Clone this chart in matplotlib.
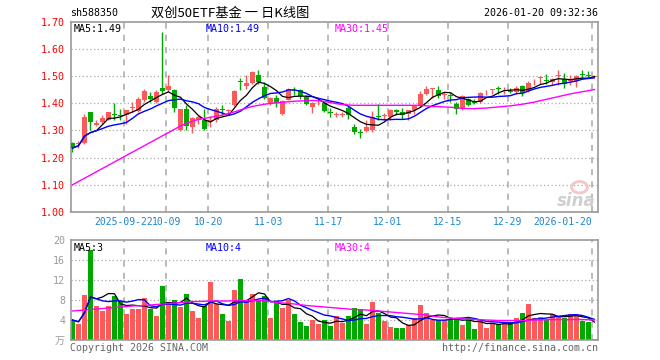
import numpy as np
import pandas as pd
import matplotlib
matplotlib.use('Agg')
import matplotlib.pyplot as plt
import matplotlib.transforms as mtransforms
from matplotlib.patches import Ellipse

plt.rcParams['font.family'] = ['DejaVu Sans Mono', 'Noto Sans CJK SC']

# daily candles, 2025-09-09 .. 2026-01-20
opens = [1.254, 1.249, 1.254, 1.366, 1.318, 1.331, 1.339, 1.359, 1.358, 1.356,
         1.383, 1.371, 1.410, 1.427, 1.404, 1.454, 1.447, 1.447, 1.303, 1.380,
         1.312, 1.337, 1.339, 1.334, 1.337, 1.378, 1.371, 1.392, 1.481, 1.464,
         1.474, 1.502, 1.459, 1.396, 1.420, 1.359, 1.413, 1.447, 1.449, 1.422,
         1.386, 1.408, 1.400, 1.369, 1.356, 1.356, 1.383, 1.312, 1.295, 1.298,
         1.300, 1.351, 1.353, 1.349, 1.376, 1.367, 1.361, 1.376, 1.388, 1.435,
         1.451, 1.449, 1.431, 1.430, 1.396, 1.383, 1.416, 1.405, 1.404, 1.443,
         1.448, 1.456, 1.443, 1.446, 1.441, 1.462, 1.445, 1.476, 1.492, 1.486,
         1.478, 1.501, 1.490, 1.482, 1.480, 1.507, 1.503, 1.496]
highs = [1.257, 1.262, 1.361, 1.366, 1.337, 1.355, 1.366, 1.400, 1.380, 1.376,
         1.404, 1.422, 1.453, 1.441, 1.449, 1.661, 1.502, 1.451, 1.380, 1.392,
         1.349, 1.355, 1.380, 1.351, 1.386, 1.392, 1.380, 1.447, 1.494, 1.502,
         1.518, 1.520, 1.478, 1.422, 1.429, 1.410, 1.456, 1.459, 1.453, 1.429,
         1.404, 1.416, 1.404, 1.383, 1.367, 1.366, 1.388, 1.325, 1.306, 1.339,
         1.371, 1.396, 1.364, 1.380, 1.380, 1.383, 1.376, 1.394, 1.445, 1.462,
         1.456, 1.462, 1.441, 1.437, 1.404, 1.429, 1.420, 1.416, 1.441, 1.449,
         1.451, 1.462, 1.459, 1.457, 1.462, 1.465, 1.481, 1.490, 1.498, 1.508,
         1.493, 1.523, 1.512, 1.502, 1.502, 1.520, 1.518, 1.502]
lows = [1.221, 1.237, 1.249, 1.300, 1.315, 1.322, 1.339, 1.339, 1.339, 1.325,
        1.367, 1.367, 1.404, 1.404, 1.400, 1.432, 1.441, 1.367, 1.298, 1.300,
        1.290, 1.325, 1.303, 1.312, 1.331, 1.355, 1.361, 1.388, 1.449, 1.453,
        1.471, 1.471, 1.416, 1.392, 1.386, 1.355, 1.410, 1.429, 1.416, 1.392,
        1.364, 1.392, 1.367, 1.349, 1.349, 1.349, 1.343, 1.288, 1.273, 1.294,
        1.294, 1.337, 1.337, 1.337, 1.355, 1.343, 1.339, 1.361, 1.386, 1.429,
        1.420, 1.420, 1.416, 1.404, 1.361, 1.374, 1.388, 1.398, 1.400, 1.429,
        1.432, 1.435, 1.432, 1.437, 1.432, 1.425, 1.441, 1.465, 1.471, 1.471,
        1.465, 1.465, 1.457, 1.465, 1.459, 1.493, 1.493, 1.496]
closes = [1.235, 1.252, 1.349, 1.331, 1.328, 1.345, 1.366, 1.355, 1.354, 1.376,
          1.386, 1.416, 1.445, 1.416, 1.440, 1.443, 1.463, 1.383, 1.380, 1.315,
          1.345, 1.349, 1.306, 1.339, 1.380, 1.374, 1.376, 1.443, 1.478, 1.474,
          1.514, 1.476, 1.420, 1.420, 1.400, 1.408, 1.453, 1.443, 1.425, 1.398,
          1.400, 1.410, 1.371, 1.365, 1.359, 1.359, 1.355, 1.294, 1.291, 1.312,
          1.349, 1.348, 1.356, 1.374, 1.367, 1.355, 1.376, 1.392, 1.432, 1.453,
          1.454, 1.425, 1.434, 1.426, 1.380, 1.425, 1.392, 1.402, 1.437, 1.446,
          1.451, 1.452, 1.446, 1.442, 1.457, 1.437, 1.474, 1.479, 1.495, 1.482,
          1.490, 1.503, 1.471, 1.485, 1.498, 1.503, 1.500, 1.501]
# 30 day average (it needs days before the window)
ma30 = [1.100, 1.112, 1.124, 1.136, 1.148, 1.160, 1.172, 1.184, 1.196, 1.208,
        1.220, 1.232, 1.244, 1.256, 1.268, 1.280, 1.292, 1.304, 1.316, 1.326,
        1.334, 1.340, 1.344, 1.348, 1.352, 1.356, 1.362, 1.368, 1.375, 1.382,
        1.388, 1.392, 1.396, 1.399, 1.401, 1.403, 1.405, 1.407, 1.408, 1.409,
        1.410, 1.409, 1.406, 1.402, 1.398, 1.395, 1.393, 1.392, 1.392, 1.392,
        1.392, 1.392, 1.392, 1.392, 1.392, 1.392, 1.392, 1.392, 1.392, 1.390,
        1.388, 1.387, 1.386, 1.385, 1.383, 1.381, 1.380, 1.380, 1.381, 1.382,
        1.384, 1.386, 1.388, 1.390, 1.393, 1.396, 1.400, 1.404, 1.409, 1.414,
        1.419, 1.424, 1.429, 1.434, 1.438, 1.442, 1.446, 1.450]

# volume, 10k lots
volumes = [4.0, 3.3, 9.1, 18.0, 6.8, 5.8, 6.8, 8.8, 7.9, 5.2,
           6.2, 6.2, 8.4, 6.3, 4.8, 10.8, 7.2, 8.0, 6.7, 9.2,
           5.9, 4.5, 6.8, 11.7, 7.2, 5.2, 3.9, 10.0, 12.2, 7.9,
           9.2, 7.9, 8.8, 4.5, 7.9, 6.4, 8.1, 5.2, 3.7, 2.8,
           4.0, 3.2, 4.0, 2.8, 4.8, 3.5, 4.8, 6.5, 6.3, 3.2,
           7.6, 5.5, 3.9, 2.7, 2.5, 2.5, 3.0, 4.5, 7.0, 5.5,
           4.0, 4.0, 4.0, 4.3, 4.5, 3.0, 4.4, 2.3, 4.2, 2.5,
           3.3, 3.2, 3.2, 3.7, 4.5, 5.5, 7.3, 4.5, 4.7, 4.1,
           5.2, 4.8, 4.5, 5.2, 4.8, 3.9, 3.7, 0.3]
vol_ma30 = [5.8, 5.9, 6.0, 6.1, 6.2, 6.3, 6.4, 6.5, 6.6, 6.7,
            6.8, 6.85, 6.9, 7.0, 7.1, 7.2, 7.3, 7.4, 7.5, 7.6,
            7.7, 7.7, 7.75, 7.8, 7.8, 7.8, 7.8, 7.85, 7.9, 7.9,
            7.9, 7.9, 7.85, 7.7, 7.55, 7.4, 7.3, 7.2, 7.05, 6.9,
            6.8, 6.7, 6.6, 6.5, 6.4, 6.3, 6.2, 6.1, 6.05, 6.0,
            5.9, 5.8, 5.7, 5.6, 5.5, 5.4, 5.3, 5.2, 5.1, 5.0,
            4.8, 4.6, 4.5, 4.4, 4.3, 4.2, 4.15, 4.1, 4.05, 4.0,
            3.95, 3.9, 3.9, 3.9, 3.9, 3.9, 3.95, 4.0, 4.0, 4.05,
            4.1, 4.1, 4.1, 4.1, 4.1, 4.1, 4.05, 4.0]

# date gridlines: (candle index, label)
date_idx = [9, 16, 23, 33, 43, 53, 63, 73, 87]
date_labels = ['2025-09-22', '10-09', '10-20', '11-03', '11-17', '12-01',
               '12-15', '12-29', '2026-01-20']

price_ticks = [1.0, 1.1, 1.2, 1.3, 1.4, 1.5, 1.6, 1.7]
vol_ticks = [0, 4, 8, 12, 16, 20]
vol_tick_labels = ['万', '4', '8', '12', '16', '20']

up_color = '#fa5a5a'
down_color = '#00a800'
grid_color = '#a8a8a8'
frame_color = '#999999'
date_color = '#1a86d0'

o = np.array(opens)
h = np.array(highs)
l = np.array(lows)
c = np.array(closes)
v = np.array(volumes)
x = np.arange(len(c))
up = c >= o
colors = np.where(up, up_color, down_color)

ma5 = pd.Series(c).rolling(5, min_periods=1).mean()
ma10 = pd.Series(c).rolling(10, min_periods=1).mean()
vma5 = pd.Series(v).rolling(5, min_periods=1).mean()
vma10 = pd.Series(v).rolling(10, min_periods=1).mean()

W, H = 660, 360
fig = plt.figure(figsize=(6.6, 3.6), dpi=100)
left = 70.7 / W
width = (598 - 70.7) / W
ax1 = fig.add_axes([left, 1 - 212 / H, width, (212 - 21.5) / H])
ax2 = fig.add_axes([left, 1 - 340 / H, width, 100 / H])
xlim = (-0.3, 87.6)

for ax in (ax1, ax2):
    ax.set_xlim(*xlim)
    for s in ax.spines.values():
        s.set_color(frame_color)
        s.set_linewidth(1.2)
    ax.set_xticks([])
    ax.tick_params(axis='y', length=0, pad=4, labelsize=7.2)

# price panel
ax1.set_ylim(1.0, 1.7)
ax1.set_yticks(price_ticks)
ax1.set_yticklabels(['%.2f' % t for t in price_ticks], color='#ff0000')
for t in price_ticks[1:-1]:
    ax1.axhline(t, color=grid_color, lw=0.9, ls=(0, (1, 2)), zorder=0)
for i in date_idx:
    ax1.axvline(i - 0.4, color=grid_color, lw=1.1, ls=(0, (4, 4)), zorder=0)

body_bottom = np.minimum(o, c)
body_height = np.maximum(np.abs(c - o), 0.0025)
ax1.vlines(x, l, h, colors=colors, lw=1.0, zorder=2)
ax1.bar(x, body_height, bottom=body_bottom, width=0.8, color=colors, lw=0, zorder=3)
ax1.plot(x, ma5, color='black', lw=0.9, zorder=4)
ax1.plot(x, ma10, color='#0000ff', lw=1.0, zorder=4)
ax1.plot(x, ma30, color='#ff00ff', lw=1.0, zorder=4)

ax1.text(0.005, 0.985, 'MA5:%.2f' % 1.49, transform=ax1.transAxes, fontsize=7.2,
         color='black', va='top', ha='left')
ax1.text(0.255, 0.985, 'MA10:%.2f' % 1.49, transform=ax1.transAxes, fontsize=7.2,
         color='#0000ff', va='top', ha='left')
ax1.text(0.5, 0.985, 'MA30:%.2f' % 1.45, transform=ax1.transAxes, fontsize=7.2,
         color='#ff00ff', va='top', ha='left')

# sina watermark
ax1.add_patch(Ellipse((0.965, 0.13), 0.03, 0.06, transform=ax1.transAxes,
                      fill=False, ec='#f5c6c6', lw=2.0, zorder=1))
ax1.text(0.995, 0.01, 'sina', transform=ax1.transAxes, fontsize=12, color='#cfcfcf',
         style='italic', weight='bold', family='DejaVu Sans', ha='right', va='bottom',
         zorder=1)

trans = mtransforms.blended_transform_factory(ax1.transData, ax1.transAxes)
for i, lab in zip(date_idx, date_labels):
    ha = 'right' if i == date_idx[-1] else 'center'
    ax1.text(i - 0.4, -0.05, lab, transform=trans, fontsize=7.0, color=date_color,
             ha=ha, va='center')

# volume panel
ax2.set_ylim(0, 20)
ax2.set_yticks(vol_ticks)
ax2.set_yticklabels(vol_tick_labels, color='#9a9a9a')
for t in vol_ticks[1:-1]:
    ax2.axhline(t, color=grid_color, lw=0.9, ls=(0, (1, 2)), zorder=0)
for i in [9, 16, 33, 43, 53, 63, 73, 87]:
    ax2.axvline(i - 0.4, color=grid_color, lw=1.1, ls=(0, (4, 4)), zorder=0)
ax2.bar(x, v, width=0.8, color=colors, lw=0, zorder=2)
ax2.plot(x, vma5, color='black', lw=0.9, zorder=4)
ax2.plot(x, vma10, color='#0000ff', lw=1.0, zorder=4)
ax2.plot(x, vol_ma30, color='#ff00ff', lw=1.0, zorder=4)
ax2.text(0.005, 0.97, 'MA5:3', transform=ax2.transAxes, fontsize=7.2,
         color='black', va='top', ha='left')
ax2.text(0.255, 0.97, 'MA10:4', transform=ax2.transAxes, fontsize=7.2,
         color='#0000ff', va='top', ha='left')
ax2.text(0.5, 0.97, 'MA30:4', transform=ax2.transAxes, fontsize=7.2,
         color='#ff00ff', va='top', ha='left')

# header and footer
fig.text(70 / W, 1 - 13 / H, 'sh588350', fontsize=7.2, color='black', va='center', ha='left')
fig.text(151 / W, 1 - 13 / H, '双创50ETF基金 一 日K线图', fontsize=9.5, color='black',
         va='center', ha='left', family=['Noto Sans CJK SC', 'DejaVu Sans'])
fig.text(598 / W, 1 - 13 / H, '2026-01-20 09:32:36', fontsize=7.2, color='black',
         va='center', ha='right')
fig.text(70 / W, 1 - 348 / H, 'Copyright 2026 SINA.COM', fontsize=7.2, color='#666666',
         va='center', ha='left')
fig.text(598 / W, 1 - 348 / H, 'http://finance.sina.com.cn', fontsize=7.2, color='#666666',
         va='center', ha='right')

fig.savefig('out.png', dpi=100)
